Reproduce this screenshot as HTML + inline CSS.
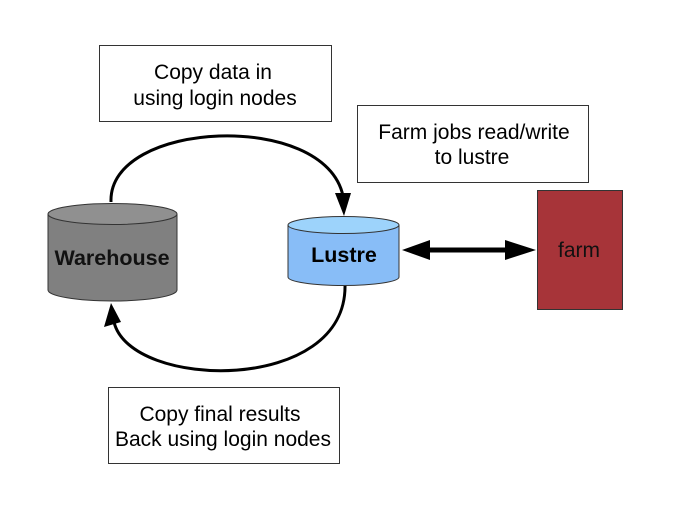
<!DOCTYPE html>
<html><head><style>body{margin:0;background:#fff}svg{display:block}</style></head><body>
<svg width="696" height="516" viewBox="0 0 696 516" xmlns="http://www.w3.org/2000/svg" font-family="Liberation Sans, sans-serif">
<rect width="696" height="516" fill="#fff"/>
<rect x="99.5" y="45.5" width="232" height="76" fill="#fff" stroke="#333" stroke-width="1"/>
<text x="213" y="79" font-size="21" text-anchor="middle">Copy data in</text>
<text x="215" y="105" font-size="21" text-anchor="middle">using login nodes</text>
<rect x="357.5" y="105.5" width="231" height="77" fill="#fff" stroke="#333" stroke-width="1"/>
<text x="474" y="139" font-size="21" text-anchor="middle">Farm jobs read/write</text>
<text x="472" y="164" font-size="21" text-anchor="middle">to lustre</text>
<rect x="108.5" y="387.5" width="231" height="76" fill="#fff" stroke="#333" stroke-width="1"/>
<text x="220" y="421" font-size="21" text-anchor="middle">Copy final results</text>
<text x="223" y="446" font-size="21" text-anchor="middle">Back using login nodes</text>
<path d="M111 202 C108 120, 325 110, 343 196" fill="none" stroke="#000" stroke-width="3"/>
<polygon points="344,216 335,193 351,193" fill="#000"/>
<path d="M345 284 C348 395, 130 390, 114 322" fill="none" stroke="#000" stroke-width="3"/>
<polygon points="111,303 104,327 121,322" fill="#000"/>
<path d="M48 214 L48 290 A64.5 11 0 0 0 177 290 L177 214" fill="#808080" stroke="#333"/>
<ellipse cx="112.5" cy="214" rx="64.5" ry="10.5" fill="#909090" stroke="#333"/>
<text x="112" y="265" font-size="21.5" font-weight="bold" text-anchor="middle" fill="#111">Warehouse</text>
<path d="M288 225 L288 277 A55.5 8.5 0 0 0 399 277 L399 225" fill="#88bdf7" stroke="#333"/>
<ellipse cx="343.5" cy="225" rx="55.5" ry="8.5" fill="#9dd3fb" stroke="#333"/>
<text x="344" y="262" font-size="21.5" font-weight="bold" text-anchor="middle" fill="#000">Lustre</text>
<line x1="425" y1="250" x2="515" y2="250" stroke="#000" stroke-width="5"/>
<polygon points="402,250 430,240 430,260" fill="#000"/>
<polygon points="536,250 505,240 505,260" fill="#000"/>
<rect x="537.5" y="190.5" width="85" height="119" fill="#a73439" stroke="#333"/>
<text x="579" y="257" font-size="21" text-anchor="middle" fill="#111">farm</text>
</svg>
</body></html>
